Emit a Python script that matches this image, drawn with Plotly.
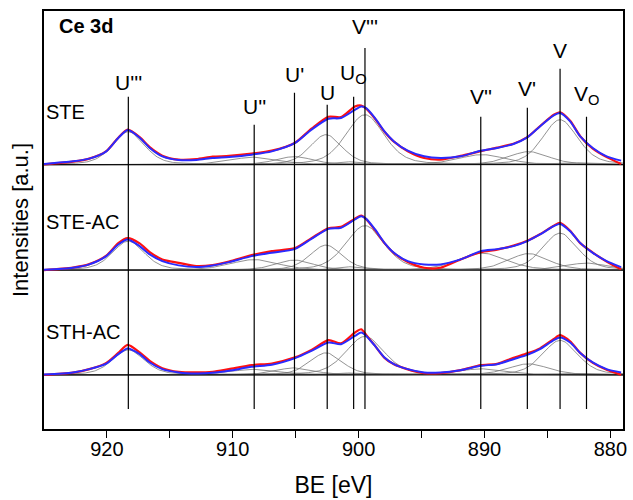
import numpy as np
import plotly.graph_objects as go

# ---------------- data ----------------
samples = ["STE", "STE-AC", "STH-AC"]

be = [925.0, 922.7, 921.4, 920.05, 919.1, 918.35, 917.4, 916.6, 915.6, 914.3,
      912.9, 911.6, 910.3, 908.5, 906.9, 905.05, 903.75, 902.4, 901.4, 900.3,
      899.8, 899.4, 898.7, 897.95, 897.2, 896.1, 894.8, 893.5, 891.9, 890.3,
      889.0, 887.7, 886.6, 885.6, 884.5, 884.0, 883.2, 882.4, 881.4, 880.3, 879.15]

ste_fit = [0.7, 3.3, 6, 13.3, 26.7, 34.7, 27, 16.7, 8.3, 4.7,
           4.7, 6.7, 7.7, 10, 13.3, 21.7, 35, 46, 46.7, 55,
           58.3, 56.7, 46.7, 33.3, 23.3, 14, 8.3, 6.7, 8.3, 14,
           16.7, 20.7, 27.3, 38.3, 49.3, 51.7, 43.3, 28.3, 16.7, 8.3, 4]
ste_exp = [0.3, 3, 6, 13.5, 27, 35, 27.5, 17.5, 9, 5,
           5.5, 8, 8.7, 11, 14, 22, 36, 48, 47.7, 58.3,
           59.3, 56, 46, 33, 23, 13.5, 6.7, 5, 8.7, 13.5,
           17, 21, 27.5, 38.5, 50, 52.5, 44, 28.5, 16, 7.5, 0.7]

steac_fit = [0.3, 2.3, 5.7, 14, 25.7, 30.7, 24, 15.7, 9, 4.7,
             3, 4.7, 8, 14, 17.3, 21.3, 31.3, 41.3, 42.3, 50.7,
             54, 51.3, 40.7, 27.3, 17.3, 9, 5.7, 5.7, 10.7, 19,
             21, 24, 29, 35.7, 44, 46.3, 39, 27.3, 17.3, 9, 3]
steac_exp = [0, 2.5, 6, 14.5, 27, 32, 26.7, 18, 10.7, 7.3,
             4, 5, 8.5, 15, 19, 22, 32, 42, 43.3, 51.5,
             54.7, 51, 40, 27, 17, 8, 2.3, 2.3, 10.7, 18,
             20.5, 24.5, 29.5, 36, 44.5, 47.3, 39.5, 27, 17.5, 8.5, 0.7]

sthac_fit = [0.3, 2.3, 5.7, 11.3, 20.7, 26.4, 20.7, 12.4, 5.7, 2.4,
             1.4, 2, 4, 8, 10, 16.7, 24, 32.4, 30.7, 39,
             42.4, 39, 29, 17.4, 10.7, 5.7, 2.4, 2.4, 4.7, 9,
             10.7, 15.7, 20, 25.7, 34.7, 37.4, 32.4, 22, 12.4, 5.7, 2.4]
sthac_exp = [0, 2.3, 5.7, 12, 22, 30, 22.4, 14, 6.7, 3,
             2.4, 3, 5.7, 9.7, 11.4, 17.5, 25, 34.7, 31.5, 42.4,
             45.7, 40, 29, 17, 10.5, 5.5, 1.7, 1.7, 4.7, 9.7,
             11, 17, 21.5, 26.5, 36, 39.7, 33.5, 22, 12, 5, 0]

# peak assignments (vertical marker lines)
peak_names = ["U'''", "U''", "U'", "U", "U<sub>O</sub>",
              "V'''", "V''", "V'", "V", "V<sub>O</sub>"]
peak_be = [918.3, 908.3, 905.1, 902.5, 900.4, 899.5, 890.3, 886.6, 884.0, 881.9]

# fitted component parameters (centre, height per sample, FWHM)
comp_center = [918.3, 908.3, 905.1, 902.6, 900.4, 899.5, 890.2, 886.5, 884.0, 881.9]
comp_fwhm = [3.0, 4.5, 3.5, 3.0, 2.5, 3.6, 4.5, 3.8, 3.3, 4.0]
ste_comp = [33, 7.5, 8, 30, 3, 50, 10, 13, 45, 2]
steac_comp = [29, 10.5, 10, 25, 3.5, 44.5, 17, 16.5, 37, 7]
sthac_comp = [25, 5.5, 7, 22, 2, 38.5, 6, 11, 34.5, 1.5]

# x-axis ticks (labelled every 10 eV, unlabelled every 5 eV)
tick_vals = [920, 915, 910, 905, 900, 895, 890, 885, 880]
tick_text = ["920", "", "910", "", "900", "", "890", "", "880"]

# ---------------- layout constants ----------------
offsets = [265, 159.3, 54.3]
line_tops = [333, 305, 337, 325, 333, 382, 313, 322, 361, 313]
label_y = [347, 323, 355, 337, 356, 403, 333, 341, 379, 335]
sample_label_y = [317.5, 207, 97]
FONT = "Liberation Sans, Arial, sans-serif"

fits = [ste_fit, steac_fit, sthac_fit]
exps = [ste_exp, steac_exp, sthac_exp]
comps = [ste_comp, steac_comp, sthac_comp]

fig = go.Figure()
grid = np.linspace(879, 925, 461)


def pvoigt(x, c, h, w, eta=0.35):
    g = np.exp(-4 * np.log(2) * ((x - c) / w) ** 2)
    l = 1.0 / (1 + 4 * ((x - c) / w) ** 2)
    return h * ((1 - eta) * g + eta * l)


for i, name in enumerate(samples):
    off = offsets[i]
    # components
    for c, h, w in zip(comp_center, comps[i], comp_fwhm):
        fig.add_trace(go.Scatter(x=grid, y=off + pvoigt(grid, c, h, w), mode="lines",
                                 line=dict(color="#777777", width=0.8),
                                 showlegend=False, hoverinfo="skip"))
    # baseline
    fig.add_trace(go.Scatter(x=[925, 879], y=[off, off], mode="lines",
                             line=dict(color="black", width=1), showlegend=False,
                             hoverinfo="skip"))
    # experimental
    fig.add_trace(go.Scatter(x=be, y=[off + v for v in exps[i]], mode="lines",
                             line=dict(color="#ff1010", width=2.2, shape="spline", smoothing=0.7),
                             name=name + " exp", showlegend=False))
    # envelope fit
    fig.add_trace(go.Scatter(x=be, y=[off + v for v in fits[i]], mode="lines",
                             line=dict(color="#2a2aff", width=2, shape="spline", smoothing=0.7),
                             name=name + " fit", showlegend=False))

shapes = []
annotations = []
for nm, xb, top, ly in zip(peak_names, peak_be, line_tops, label_y):
    shapes.append(dict(type="line", xref="x", yref="y", x0=xb, x1=xb, y0=20, y1=top,
                       line=dict(color="black", width=1.2)))
    annotations.append(dict(x=xb, y=ly, xref="x", yref="y", text=nm, showarrow=False,
                            font=dict(family=FONT, size=21, color="black"),
                            xanchor="center", yanchor="middle"))

for nm, ly in zip(samples, sample_label_y):
    annotations.append(dict(x=0.0, y=ly, xref="paper", yref="y", text=nm, showarrow=False,
                            font=dict(family=FONT, size=20, color="black"),
                            xanchor="left", yanchor="middle"))

annotations.append(dict(x=0.022, y=404, xref="paper", yref="y", text="<b>Ce 3d</b>",
                        showarrow=False, font=dict(family=FONT, size=20, color="black"),
                        xanchor="left", yanchor="middle"))

fig.update_layout(
    width=633, height=500,
    margin=dict(l=44, r=6, t=11, b=70),
    paper_bgcolor="white", plot_bgcolor="white",
    shapes=shapes, annotations=annotations,
    font=dict(family=FONT, color="black"),
    xaxis=dict(range=[925, 879], showgrid=False, zeroline=False,
               showline=True, mirror=True, linecolor="black", linewidth=1.5,
               ticks="outside", ticklen=7, tickwidth=1.3, tickcolor="black",
               tickmode="array", tickvals=tick_vals, ticktext=tick_text,
               ticklabelstandoff=-6,
               tickfont=dict(size=20, family=FONT, color="black"),
               title=dict(text="BE [eV]", font=dict(size=23, family=FONT, color="black"), standoff=18)),
    yaxis=dict(range=[0, 419], showgrid=False, zeroline=False, showticklabels=False,
               ticks="", showline=True, mirror=True, linecolor="black", linewidth=1.5,
               title=dict(text="Intensities [a.u.]", font=dict(size=22, family=FONT, color="black"),
                          standoff=8)),
)

fig.write_html("out.html")
